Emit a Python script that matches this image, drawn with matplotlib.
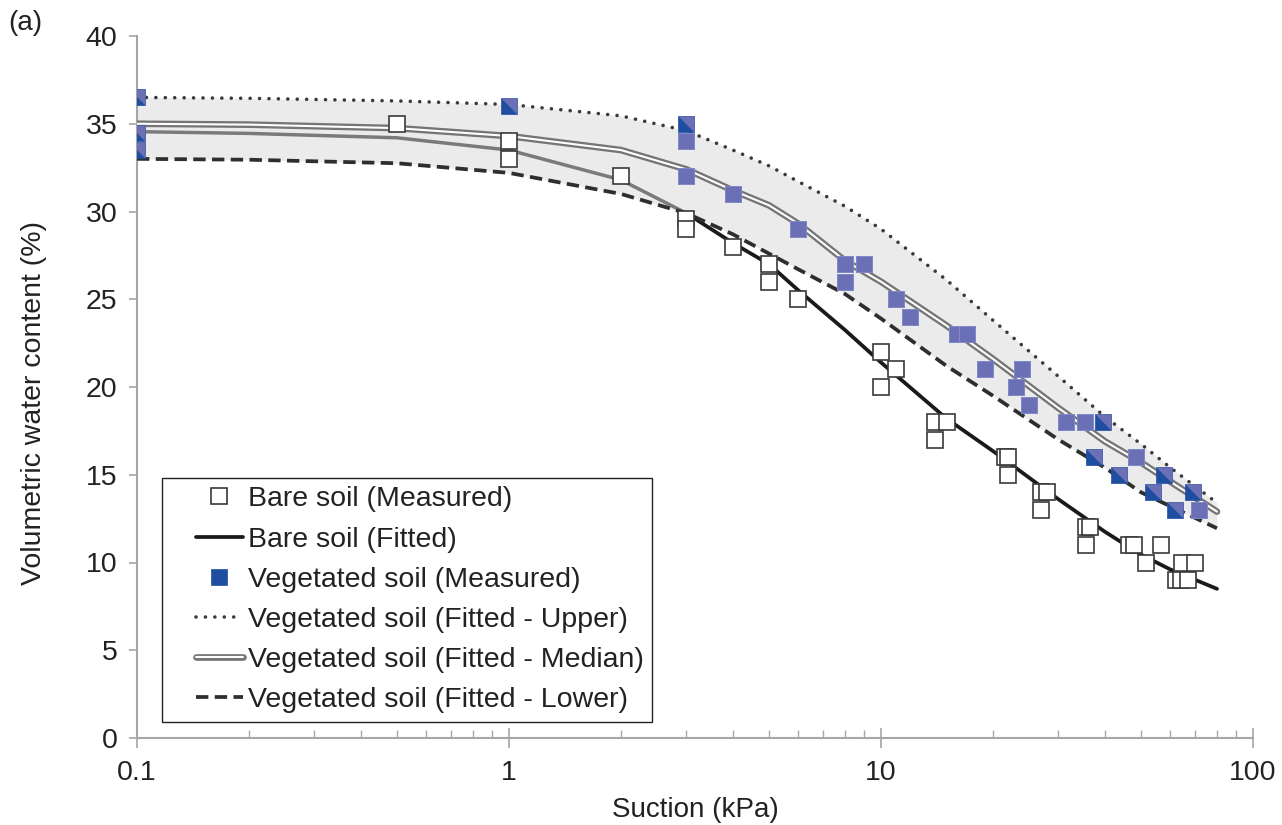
import matplotlib
matplotlib.use("Agg")
import matplotlib.pyplot as plt
from matplotlib.path import Path
from matplotlib.lines import Line2D
from matplotlib.legend_handler import HandlerLine2D
import matplotlib.patheffects as pe
from matplotlib.ticker import LogLocator, FixedLocator, NullFormatter, FixedFormatter

# ---------------- data ----------------
suction_fit = [0.1, 0.2, 0.5, 1, 2, 3, 4, 5, 6, 8, 10, 15, 20, 30, 40, 50, 60, 80]
bare_fit = [34.55, 34.45, 34.2, 33.5, 31.8, 29.9, 28.2, 27.0, 25.5, 23.25, 21.4, 18.2,
            16.35, 13.6, 11.75, 10.45, 9.6, 8.5]
veg_median = [35.0, 34.95, 34.75, 34.3, 33.5, 32.4, 31.2, 30.35, 29.3, 27.2, 26.0, 23.5,
              21.6, 18.8, 16.9, 15.7, 14.6, 12.9]
veg_upper = [36.5, 36.45, 36.3, 36.1, 35.45, 34.6, 33.5, 32.6, 31.7, 30.3, 29.0, 26.1,
             23.8, 20.6, 18.3, 16.75, 15.4, 13.4]
veg_lower = [33.0, 32.95, 32.75, 32.2, 31.0, 29.9, 28.7, 27.6, 26.7, 25.3, 23.9, 21.2,
             19.5, 17.0, 15.4, 14.0, 13.2, 11.95]

bare_x = [0.5, 1, 1, 2, 3, 3, 4, 5, 5, 6, 10, 10, 11, 14, 14, 15, 21.5, 22, 22,
          27, 28, 27, 35.5, 36.5, 35.5, 46.5, 48, 56.5, 51.5, 64.5, 70, 62, 64, 67]
bare_y = [35, 34, 33, 32, 29.6, 29, 28, 27, 26, 25, 22, 20, 21, 18, 17, 18, 16, 16, 15,
          14, 14, 13, 12, 12, 11, 11, 11, 11, 10, 10, 10, 9, 9, 9]

veg_x = [0.1, 0.1, 0.1, 1, 3, 3, 3, 4, 6, 8, 8, 9, 11, 12, 16, 17, 19, 24, 23, 25,
         31.4, 35.4, 39.5, 37.4, 48.4, 43.5, 57.7, 53.7, 68.8, 61.8, 71.7]
veg_y = [36.5, 34.5, 33.5, 36, 35, 34, 32, 31, 29, 27, 26, 27, 25, 24, 23, 23, 21, 21, 20, 19,
         18, 18, 18, 16, 16, 15, 15, 14, 14, 13, 13]

x_ticks = [0.1, 1, 10, 100]
x_tick_labels = ["0.1", "1", "10", "100"]
y_ticks = [0, 5, 10, 15, 20, 25, 30, 35, 40]

# ---------------- style ----------------
plt.rcParams['font.family'] = ['Liberation Sans', 'DejaVu Sans']
TXT = '#222222'
BLUE = '#1f4ea0'
PURPLE = '#6b6fb5'
AXC = '#a6a6a6'
# overlay appearance for each vegetated point (purple cover: full square or upper-right half)
veg_overlay = ['half', 'half', 'half', 'half', 'half', 'full', 'full', 'full', 'full', 'full',
               'full', 'full', 'full', 'full', 'full', 'full', 'full', 'full', 'full', 'full',
               'full', 'full', 'half', 'half', 'full', 'half', 'half', 'half', 'half', 'half',
               'full']

fig = plt.figure(figsize=(12.82, 8.25), dpi=100)
ax = fig.add_axes([137 / 1282, 87 / 825, 1116 / 1282, 702 / 825])
ax.set_xscale('log')
ax.set_xlim(0.1, 100)
ax.set_ylim(0, 40)

# band
ax.fill_between(suction_fit, veg_lower, veg_upper, color='#ebebeb', lw=0, zorder=1)

# bare fitted: gray for low suction part, black afterwards
n3 = suction_fit.index(3)
ax.plot(suction_fit[:n3 + 1], bare_fit[:n3 + 1], color='#7a7a7a', lw=2.5,
        solid_capstyle='butt', zorder=3)
bare_line, = ax.plot(suction_fit[n3:], bare_fit[n3:], color='#1a1a1a', lw=2.7,
                     solid_capstyle='round', zorder=3)

# upper dotted
up_line, = ax.plot(suction_fit, veg_upper, color='#3a3a3a', lw=2.6,
                   linestyle=(0, (0.01, 2.6)), dash_capstyle='round', zorder=3)
# lower dashed
lo_line, = ax.plot(suction_fit, veg_lower, color='#2e2e2e', lw=2.7,
                   linestyle=(0, (3.3, 1.7)), dash_capstyle='butt', zorder=3)
# median double line
med_line, = ax.plot(suction_fit, veg_median, color='white', lw=1.5,
                    solid_capstyle='round', zorder=4,
                    path_effects=[pe.Stroke(linewidth=4.8, foreground='#757575'), pe.Normal()])

# bare measured
bare_pts, = ax.plot(bare_x, bare_y, 's', ms=11.5, mfc='white', mec='#3a3a3a',
                    mew=1.2, linestyle='none', zorder=5)

# vegetated measured
veg_pts, = ax.plot(veg_x, veg_y, 's', ms=12, mfc=BLUE, mec=BLUE, mew=0.5,
                   linestyle='none', zorder=6)
half_marker = Path([(-0.5, 0.5), (0.5, 0.5), (0.5, -0.5), (-0.5, 0.5)],
                   [Path.MOVETO, Path.LINETO, Path.LINETO, Path.CLOSEPOLY])
full_x = [x for x, k in zip(veg_x, veg_overlay) if k == 'full']
full_y = [y for y, k in zip(veg_y, veg_overlay) if k == 'full']
half_x = [x for x, k in zip(veg_x, veg_overlay) if k == 'half']
half_y = [y for y, k in zip(veg_y, veg_overlay) if k == 'half']
ax.plot(full_x, full_y, 's', ms=12, mfc=PURPLE, mec='#8a8ecc', mew=0.6,
        linestyle='none', zorder=7)
ax.plot(half_x, half_y, marker=half_marker, ms=12, mfc=PURPLE, mec='none',
        linestyle='none', zorder=7)

# axes styling
for s in ['top', 'right']:
    ax.spines[s].set_visible(False)
for s in ['left', 'bottom']:
    ax.spines[s].set_color(AXC)
    ax.spines[s].set_linewidth(1.5)

ax.xaxis.set_major_locator(FixedLocator(x_ticks))
ax.xaxis.set_major_formatter(FixedFormatter(x_tick_labels))
ax.xaxis.set_minor_locator(LogLocator(base=10, subs=range(2, 10)))
ax.xaxis.set_minor_formatter(NullFormatter())
ax.set_yticks(y_ticks)
ax.tick_params(axis='x', which='major', direction='inout', length=14, width=1.2,
               color=AXC, labelsize=20.5, labelcolor=TXT, pad=9)
ax.tick_params(axis='x', which='minor', direction='in', length=6, width=1.0, color=AXC)
ax.tick_params(axis='y', which='major', direction='out', length=6, width=1.2,
               color=AXC, labelsize=20.5, labelcolor=TXT, pad=8)

ax.set_xlabel('Suction (kPa)', fontsize=20, color=TXT, labelpad=8)
ax.set_ylabel('Volumetric water content (%)', fontsize=20.5, color=TXT)
ax.yaxis.set_label_coords((47 - 137) / 1116, (738 - 403) / 702)
fig.text(8 / 1282, 1 - 23 / 825, '(a)', fontsize=20, color=TXT, va='center', ha='left')

handles = [bare_pts, bare_line, veg_pts, up_line, med_line, lo_line]
labels = ['Bare soil (Measured)', 'Bare soil (Fitted)', 'Vegetated soil (Measured)',
          'Vegetated soil (Fitted - Upper)', 'Vegetated soil (Fitted - Median)',
          'Vegetated soil (Fitted - Lower)']
leg = ax.legend(handles, labels, loc='lower left',
                bbox_to_anchor=((162 - 137) / 1116, (738 - 722) / 702),
                borderaxespad=0, fontsize=20.5, frameon=True, fancybox=False,
                edgecolor='#222222', framealpha=1, handlelength=2.53,
                handletextpad=0.18, labelspacing=0.5, borderpad=0.3,
                handler_map={Line2D: HandlerLine2D(xpad=0.88)})
leg.get_frame().set_linewidth(1.0)
for t in leg.get_texts():
    t.set_color(TXT)
leg.set_zorder(10)

fig.savefig('out.png', dpi=100)
